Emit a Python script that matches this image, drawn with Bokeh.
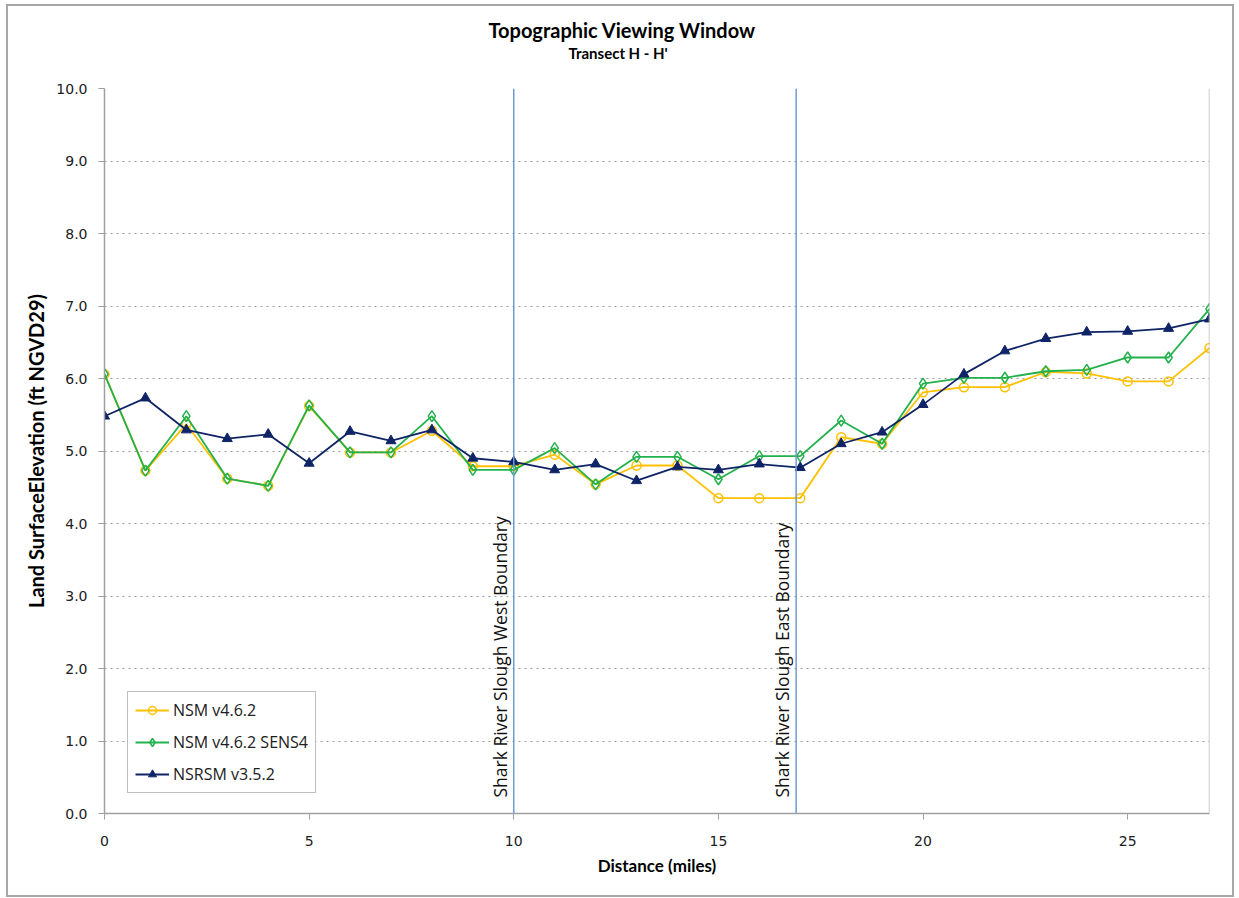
from bokeh.plotting import figure
from bokeh.models import Range1d, Span, Title, FixedTicker, NumeralTickFormatter, ColumnDataSource
from bokeh.core.properties import value
from bokeh.embed import file_html
from bokeh.resources import INLINE
import math

distance = list(range(28))
nsm = [6.06, 4.73, 5.37, 4.62, 4.52, 5.62, 4.98, 4.98, 5.28, 4.79, 4.79, 4.95, 4.54, 4.80,
       4.80, 4.35, 4.35, 4.35, 5.19, 5.10, 5.81, 5.88, 5.88, 6.09, 6.07, 5.96, 5.96, 6.42]
sens4 = [6.06, 4.73, 5.48, 4.62, 4.52, 5.63, 4.98, 4.98, 5.48, 4.74, 4.74, 5.04, 4.54, 4.92,
         4.92, 4.61, 4.93, 4.93, 5.42, 5.10, 5.93, 6.01, 6.01, 6.10, 6.12, 6.29, 6.29, 6.96]
nsrsm = [5.48, 5.73, 5.29, 5.17, 5.23, 4.83, 5.27, 5.14, 5.29, 4.90, 4.85, 4.74, 4.82, 4.59,
         4.78, 4.74, 4.82, 4.77, 5.10, 5.26, 5.64, 6.06, 6.38, 6.55, 6.64, 6.65, 6.69, 6.82]
boundary_x = [10.0, 16.9]
boundary_labels = ["Shark River Slough West Boundary", "Shark River Slough East Boundary"]
y_ticks = [0, 1, 2, 3, 4, 5, 6, 7, 8, 9, 10]
x_ticks = [0, 5, 10, 15, 20, 25]

p = figure(width=1228, height=893, output_backend="svg", toolbar_location=None,
           x_range=Range1d(0, 27), y_range=Range1d(0, 10),
           min_border_left=96, min_border_right=27, min_border_bottom=86, min_border_top=82)
p.styles = {"border": "2px solid #a6a6a6", "box-sizing": "border-box",
            "margin-left": "6px", "margin-top": "4px"}

p.add_layout(Title(text=" ", text_font_size="22px", standoff=0), "above")
p.add_layout(Title(text="Transect H - H'", align="left", offset=464,
                   text_font="Lato", text_font_size="15px", text_font_style="bold",
                   text_color="#000000", standoff=0), "above")
p.add_layout(Title(text="Topographic Viewing Window", align="left", offset=384,
                   text_font="Lato", text_font_size="20px", text_font_style="bold",
                   text_color="#000000", standoff=0), "above")

p.outline_line_color = None
p.xgrid.grid_line_color = None
p.ygrid.grid_line_color = "#9a9a9a"
p.ygrid.grid_line_dash = "dotted"
p.ygrid.grid_line_width = 1
p.ygrid.ticker = FixedTicker(ticks=y_ticks)

for ax in (p.xaxis, p.yaxis):
    ax.axis_line_color = "#a0a0a0"
    ax.axis_line_width = 1.5
    ax.major_tick_line_color = "#a0a0a0"
    ax.major_tick_out = 6
    ax.major_tick_in = 0
    ax.minor_tick_line_color = None
    ax.major_label_text_font = "DejaVu Sans"
    ax.major_label_text_font_size = "14px"
    ax.major_label_text_color = "#202020"
    ax.axis_label_text_font = "Lato"
    ax.axis_label_text_font_style = "bold"
    ax.axis_label_text_color = "#000000"

p.xaxis.axis_label_text_font_size = "17px"
p.yaxis.axis_label_text_font_size = "20px"
p.xaxis.ticker = FixedTicker(ticks=x_ticks)
p.yaxis.ticker = FixedTicker(ticks=y_ticks)
p.yaxis.formatter = NumeralTickFormatter(format="0.0")
p.xaxis.axis_label = "Distance (miles)"
p.yaxis.axis_label = "Land SurfaceElevation (ft NGVD29)"
p.xaxis.major_label_standoff = 16
p.xaxis.axis_label_standoff = 6
p.yaxis.major_label_standoff = 11
p.yaxis.axis_label_standoff = 5

# right border of plot area
p.add_layout(Span(location=27, dimension="height", line_color="#c0c0c0", line_width=1.5))

# boundary lines
for bx in boundary_x:
    p.add_layout(Span(location=bx, dimension="height", line_color="#6f9bd1", line_width=1.5))

bsrc = ColumnDataSource(dict(x=boundary_x, y=[0.22, 0.22], t=boundary_labels))
p.text(x="x", y="y", text="t", source=bsrc, angle=math.pi / 2, x_offset=-2,
       text_align="left", text_baseline="bottom", text_font=value("Open Sans"),
       text_font_size="17.5px", text_color="#111111")

yellow = "#FFC000"
green = "#22B14C"
navy = "#0F2466"

p.line(distance, nsm, line_color=yellow, line_width=1.8, legend_label="NSM v4.6.2")
p.scatter(distance, nsm, marker="circle", size=9, fill_color="white", fill_alpha=0,
          line_color=yellow, line_width=1.5, legend_label="NSM v4.6.2")
p.line(distance, sens4, line_color=green, line_width=1.8, legend_label="NSM v4.6.2 SENS4")
p.scatter(distance, sens4, marker="diamond", size=11, fill_color="white", fill_alpha=0,
          line_color=green, line_width=1.5, legend_label="NSM v4.6.2 SENS4")
p.line(distance, nsrsm, line_color=navy, line_width=1.8, legend_label="NSRSM v3.5.2")
p.scatter(distance, nsrsm, marker="triangle", size=10, fill_color=navy,
          line_color=navy, line_width=1, legend_label="NSRSM v3.5.2")

lg = p.legend[0]
lg.location = (23, 20)
lg.border_line_color = "#808080"
lg.border_line_width = 1
lg.background_fill_color = "white"
lg.background_fill_alpha = 1
lg.label_text_font = "Open Sans"
lg.label_text_font_size = "16px"
lg.label_text_color = "#202020"
lg.label_height = 20
lg.glyph_height = 20
lg.glyph_width = 34
lg.spacing = 10
lg.padding = 7
lg.margin = 0
lg.label_standoff = 4

open("out.html", "w").write(file_html(p, INLINE))
